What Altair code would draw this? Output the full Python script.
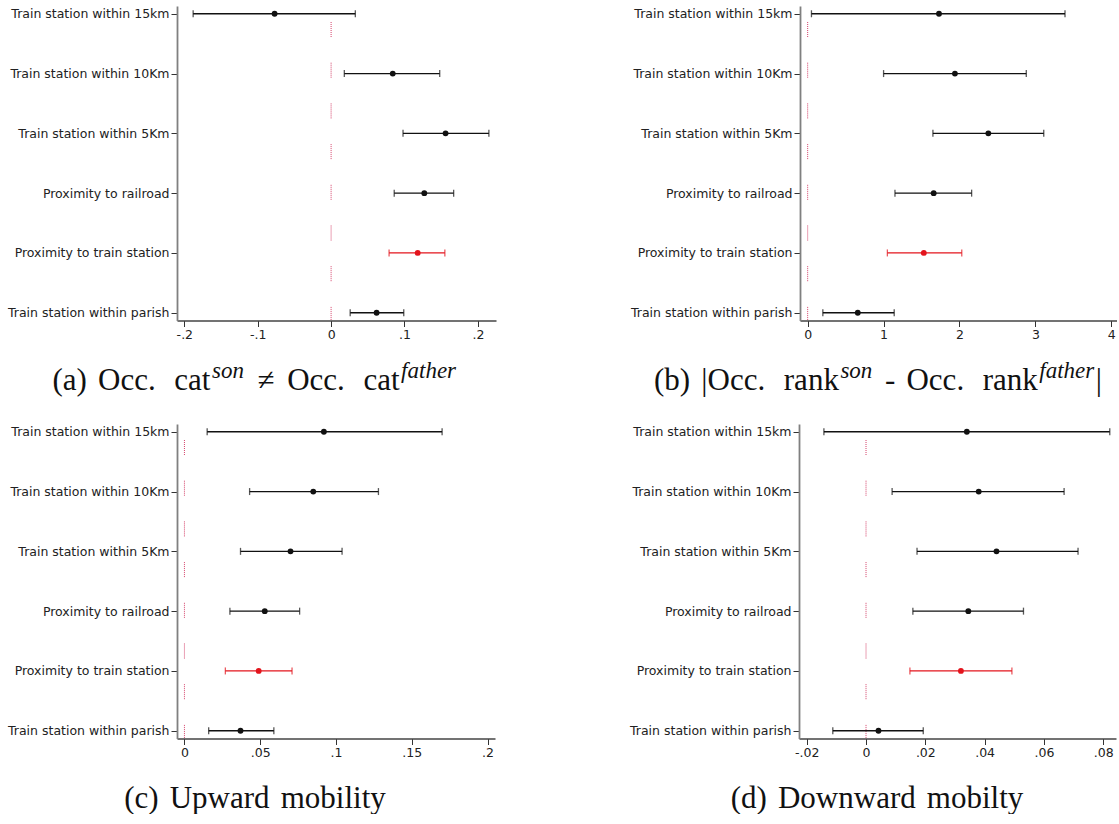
import altair as alt
import pandas as pd

# Regressors, top to bottom
terms = [
    "Train station within 15km",
    "Train station within 10Km",
    "Train station within 5Km",
    "Proximity to railroad",
    "Proximity to train station",
    "Train station within parish",
]
highlight = "Proximity to train station"

# (a) Occupational category of son differs from father's
est_a = [-0.077, 0.084, 0.156, 0.127, 0.118, 0.062]
lo_a = [-0.188, 0.018, 0.098, 0.086, 0.079, 0.026]
hi_a = [0.033, 0.148, 0.215, 0.167, 0.155, 0.099]

# (b) Absolute rank difference
est_b = [1.73, 1.94, 2.38, 1.66, 1.53, 0.66]
lo_b = [0.05, 1.00, 1.65, 1.15, 1.05, 0.20]
hi_b = [3.39, 2.88, 3.11, 2.16, 2.03, 1.14]

# (c) Upward mobility
est_c = [0.092, 0.085, 0.070, 0.053, 0.049, 0.037]
lo_c = [0.015, 0.043, 0.037, 0.030, 0.027, 0.016]
hi_c = [0.170, 0.128, 0.104, 0.076, 0.071, 0.059]

# (d) Downward mobility
est_d = [0.034, 0.038, 0.044, 0.0345, 0.032, 0.0042]
lo_d = [-0.0142, 0.0088, 0.0172, 0.0158, 0.0148, -0.0112]
hi_d = [0.0822, 0.0668, 0.0715, 0.0531, 0.0492, 0.0193]

ticks_a = [-0.2, -0.1, 0, 0.1, 0.2]
labels_a = ["-.2", "-.1", "0", ".1", ".2"]
ticks_b = [0, 1, 2, 3, 4]
labels_b = ["0", "1", "2", "3", "4"]
ticks_c = [0, 0.05, 0.1, 0.15, 0.2]
labels_c = ["0", ".05", ".1", ".15", ".2"]
ticks_d = [-0.02, 0, 0.02, 0.04, 0.06, 0.08]
labels_d = ["-.02", "0", ".02", ".04", ".06", ".08"]

zero_line = [0]

# Caption pieces: (text, kind) where kind is "rm", "sup" or a gap in em
caption_a = [("(a)", "rm"), (0.36, "gap"), ("Occ.", "rm"), (0.6, "gap"), ("cat", "rm"),
             ("son", "sup"), (0.4, "gap"), ("≠", "rm"), (0.4, "gap"), ("Occ.", "rm"),
             (0.6, "gap"), ("cat", "rm"), ("father", "sup")]
caption_b = [("(b)", "rm"), (0.36, "gap"), ("|Occ.", "rm"), (0.6, "gap"), ("rank", "rm"),
             ("son", "sup"), (0.36, "gap"), ("-", "rm"), (0.36, "gap"), ("Occ.", "rm"),
             (0.6, "gap"), ("rank", "rm"), ("father", "sup"), ("|", "rm")]
caption_c = [("(c)", "rm"), (0.36, "gap"), ("Upward", "rm"), (0.36, "gap"), ("mobility", "rm")]
caption_d = [("(d)", "rm"), (0.36, "gap"), ("Downward", "rm"), (0.36, "gap"), ("mobilty", "rm")]

# Approximate advance widths (1/1000 em) of the serif caption font
ROMAN = {"(": 333, ")": 333, "|": 200, "-": 333, ".": 250, " ": 250, "a": 444, "b": 500,
         "c": 444, "d": 500, "e": 444, "f": 333, "h": 500, "i": 278, "k": 500, "l": 278,
         "m": 778, "n": 500, "o": 500, "p": 500, "r": 333, "s": 389, "t": 278, "u": 500,
         "w": 722, "y": 500, "O": 722, "U": 722, "D": 722, "≠": 549}
ITALIC = {"a": 500, "e": 444, "f": 278, "h": 500, "n": 500, "o": 500, "r": 389, "s": 389,
          "t": 278}

CAP_FONT = "Liberation Serif"
CAP_SIZE = 31
SUP_SIZE = 23
SUP_RAISE = 12

PLOT_H = 314.5
CAP_CENTER = 78
CAP_BASE = 384

RED = "#e3141c"
INK = "#111111"


def caption_frame(pieces):
    rows = []
    x = 0.0
    for val, kind in pieces:
        if kind == "gap":
            x += val * CAP_SIZE
            continue
        if kind == "rm":
            w = sum(ROMAN.get(ch, 500) for ch in val) / 1000 * CAP_SIZE
            rows.append({"txt": val, "cx": x, "cy": CAP_BASE, "fs": CAP_SIZE, "it": False})
        else:
            w = sum(ITALIC.get(ch, 500) for ch in val) / 1000 * SUP_SIZE
            rows.append({"txt": val, "cx": x + 1.5, "cy": CAP_BASE - SUP_RAISE, "fs": SUP_SIZE,
                         "it": True})
            w += 3
        x += w
    shift = CAP_CENTER - x / 2
    for r in rows:
        r["cx"] += shift
    return pd.DataFrame(rows)


def label_expr(values, labels):
    expr = "''"
    for v, lab in reversed(list(zip(values, labels))):
        expr = f"abs(datum.value - ({v})) < 1e-9 ? '{lab}' : ({expr})"
    return expr


def panel(est, lo, hi, domain, width, ticks, tick_labels, caption):
    df = pd.DataFrame({"term": terms, "est": est, "lo": lo, "hi": hi})
    xs = alt.Scale(domain=domain, nice=False, zero=False)
    xaxis = alt.Axis(values=ticks, labelExpr=label_expr(ticks, tick_labels), title=None,
                     grid=False, domainColor="#444444", domainWidth=1.4)
    ys = alt.Scale(type="point", padding=0.13)
    y = alt.Y("term:N", sort=terms, scale=ys, title=None,
              axis=alt.Axis(grid=False, domainColor="#808080", domainWidth=1.8))
    color = alt.condition(alt.datum.term == highlight, alt.value(RED), alt.value(INK))

    base = alt.Chart(df)
    zero = alt.Chart(pd.DataFrame({"v": zero_line})).mark_rule(
        color="#d4426a", strokeWidth=1,
        strokeDash=[1, 1, 1, 1, 1, 1, 1, 1, 1, 1, 1, 1, 1, 1, 1, 25.7], strokeDashOffset=24.7,
    ).encode(x=alt.X("v:Q", scale=xs, axis=xaxis))
    bars = base.mark_rule(strokeWidth=1.3).encode(
        x=alt.X("lo:Q", scale=xs, axis=xaxis), x2="hi:Q", y=y, color=color)
    cap_lo = base.mark_tick(thickness=1.3, size=7).encode(
        x=alt.X("lo:Q", scale=xs), y=y, color=color)
    cap_hi = base.mark_tick(thickness=1.3, size=7).encode(
        x=alt.X("hi:Q", scale=xs), y=y, color=color)
    pts = base.mark_circle(size=34, opacity=1).encode(
        x=alt.X("est:Q", scale=xs), y=y, color=color)
    plot = alt.layer(zero, bars, cap_lo, cap_hi, pts)

    cap = caption_frame(caption)
    cap_base = alt.Chart(cap).encode(
        x=alt.X("cx:Q", scale=None, axis=None),
        y=alt.Y("cy:Q", scale=None, axis=None),
        text="txt:N",
        size=alt.Size("fs:Q", scale=None, legend=None),
    )
    cap_rm = cap_base.transform_filter("!datum.it").mark_text(
        font=CAP_FONT, align="left", baseline="alphabetic", color="#111111")
    cap_it = cap_base.transform_filter("datum.it").mark_text(
        font=CAP_FONT, fontStyle="italic", align="left", baseline="alphabetic",
        color="#111111")
    return alt.layer(plot, cap_rm, cap_it).resolve_scale(
        x="independent", y="independent").properties(width=width, height=PLOT_H)


pa = panel(est_a, lo_a, hi_a, [-0.21, 0.2247], 319, ticks_a, labels_a, caption_a)
pb = panel(est_b, lo_b, hi_b, [-0.101, 4.075], 317, ticks_b, labels_b, caption_b)
pc = panel(est_c, lo_c, hi_c, [-0.0049, 0.2049], 318, ticks_c, labels_c, caption_c)
pd_ = panel(est_d, lo_d, hi_d, [-0.0226, 0.0843], 317, ticks_d, labels_d, caption_d)

chart = alt.vconcat(
    alt.hconcat(pa, pb, spacing=134),
    alt.hconcat(pc, pd_, spacing=134),
    spacing=27,
).properties(
    padding={"left": 7, "top": 5, "right": 0, "bottom": 0},
    background="white",
).configure_view(stroke=None).configure_axis(
    labelFont="DejaVu Sans", labelFontSize=12.5, labelColor="#222222",
    tickColor="#333333", tickSize=6, tickWidth=1, labelPadding=2,
)

chart.save("out.html", embed_options={"renderer": "svg", "actions": False})
